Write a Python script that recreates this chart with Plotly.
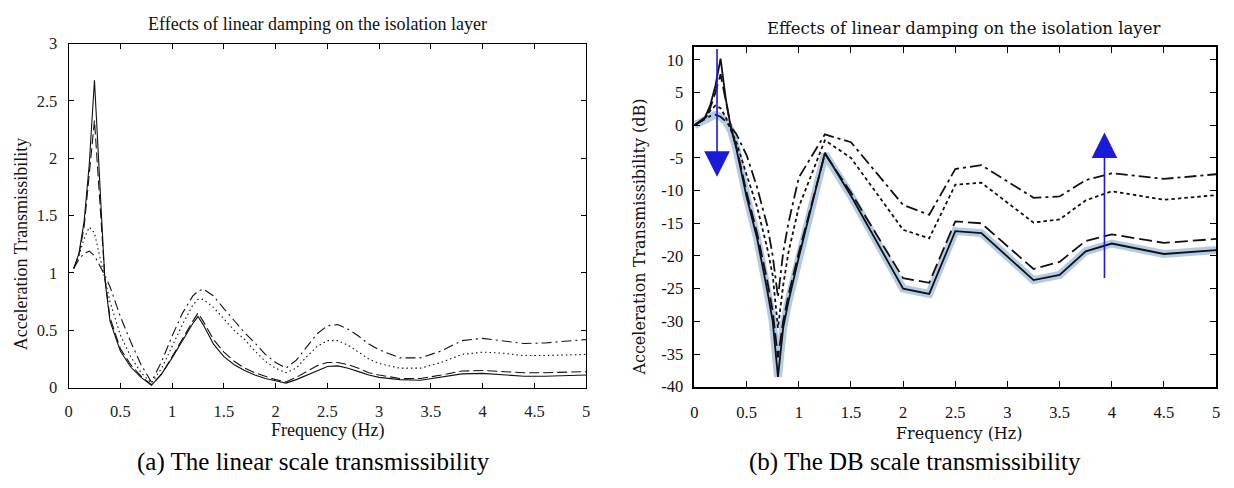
import plotly.graph_objects as go

W, H = 1234, 488

# ---------------- Left panel (linear scale) ----------------
freq_lin = [0.05, 0.1, 0.15, 0.2, 0.25, 0.3, 0.35, 0.4, 0.5, 0.6, 0.7, 0.8, 0.9, 1.0,
            1.1, 1.2, 1.25, 1.3, 1.4, 1.5, 1.6, 1.7, 1.8, 1.9, 2.0, 2.1, 2.2, 2.3, 2.4,
            2.5, 2.6, 2.7, 2.8, 2.9, 3.0, 3.2, 3.4, 3.6, 3.8, 4.0, 4.2, 4.4, 4.6, 4.8, 5.0]
lin_solid = [1.04, 1.17, 1.45, 1.95, 2.68, 1.75, 0.95, 0.58, 0.32, 0.18, 0.09, 0.02, 0.12, 0.26,
             0.41, 0.56, 0.62, 0.55, 0.38, 0.27, 0.20, 0.15, 0.11, 0.08, 0.06, 0.04, 0.07, 0.11, 0.15,
             0.185, 0.19, 0.17, 0.14, 0.11, 0.09, 0.07, 0.065, 0.09, 0.12, 0.125, 0.115, 0.10, 0.10, 0.105, 0.11]
lin_dash = [1.04, 1.16, 1.40, 1.85, 2.33, 1.65, 0.96, 0.61, 0.34, 0.20, 0.10, 0.025, 0.12, 0.27,
            0.43, 0.58, 0.65, 0.58, 0.42, 0.31, 0.23, 0.17, 0.13, 0.10, 0.07, 0.05, 0.09, 0.14, 0.19,
            0.22, 0.22, 0.20, 0.17, 0.13, 0.11, 0.08, 0.08, 0.11, 0.145, 0.15, 0.14, 0.13, 0.13, 0.135, 0.14]
lin_dot = [1.04, 1.15, 1.30, 1.40, 1.35, 1.15, 0.97, 0.75, 0.46, 0.27, 0.13, 0.04, 0.17, 0.36,
           0.55, 0.72, 0.77, 0.77, 0.70, 0.60, 0.50, 0.42, 0.32, 0.23, 0.17, 0.13, 0.17, 0.27, 0.36,
           0.41, 0.41, 0.37, 0.31, 0.25, 0.21, 0.17, 0.17, 0.22, 0.29, 0.31, 0.30, 0.28, 0.28, 0.285, 0.29]
lin_dashdot = [1.04, 1.12, 1.17, 1.19, 1.15, 1.07, 0.98, 0.88, 0.62, 0.40, 0.20, 0.05, 0.23, 0.45,
               0.65, 0.80, 0.84, 0.86, 0.80, 0.69, 0.58, 0.48, 0.39, 0.29, 0.22, 0.17, 0.24, 0.36, 0.47,
               0.54, 0.55, 0.51, 0.45, 0.38, 0.33, 0.26, 0.26, 0.32, 0.41, 0.43, 0.41, 0.385, 0.39, 0.405, 0.42]

# ---------------- Right panel (dB scale) ----------------
freq_db = [0, 0.1, 0.15, 0.2, 0.25, 0.3, 0.35, 0.4, 0.5, 0.6, 0.7, 0.75, 0.8, 0.85, 0.9, 1.0,
           1.25, 1.5, 2.0, 2.25, 2.5, 2.75, 3.25, 3.5, 3.75, 4.0, 4.5, 5.0]
db_solid = [0, 1.2, 3.0, 6.0, 10.2, 4.0, -0.5, -3.5, -11.0, -17.3, -25.5, -30.0, -38.5, -31.0, -27.0, -20.2,
            -4.2, -10.8, -25.0, -25.8, -16.2, -16.5, -23.7, -22.9, -19.3, -18.1, -19.7, -19.1]
db_dash = [0, 1.1, 2.6, 5.0, 7.8, 3.5, -0.3, -3.2, -10.3, -16.5, -24.0, -28.5, -35.5, -30.0, -26.0, -19.5,
           -4.4, -10.3, -23.4, -24.1, -14.7, -15.0, -22.0, -20.9, -17.7, -16.7, -18.0, -17.4]
db_dot = [0, 1.0, 2.2, 3.0, 2.6, 1.2, -0.8, -2.5, -7.6, -12.5, -19.0, -23.0, -31.0, -24.5, -19.5, -12.5,
          -2.3, -5.0, -16.0, -17.3, -9.1, -8.8, -14.9, -14.4, -11.5, -10.1, -11.4, -10.7]
db_dashdot = [0, 0.9, 1.4, 1.6, 1.3, 0.6, -0.3, -1.3, -4.6, -9.5, -15.5, -20.0, -26.3, -19.5, -15.0, -8.0,
              -1.4, -2.6, -12.2, -13.7, -6.7, -6.1, -11.1, -10.9, -8.4, -7.35, -8.2, -7.5]
# light-blue highlight follows the lowest curve
db_highlight = [min(a, b, c, d) for a, b, c, d in zip(db_solid, db_dash, db_dot, db_dashdot)]

x_ticks = [0, 0.5, 1, 1.5, 2, 2.5, 3, 3.5, 4, 4.5, 5]
x_ticktext = ["0", "0.5", "1", "1.5", "2", "2.5", "3", "3.5", "4", "4.5", "5"]
lin_yticks = [0, 0.5, 1, 1.5, 2, 2.5, 3]
lin_yticktext = ["0", "0.5", "1", "1.5", "2", "2.5", "3"]
db_yticks = [-40, -35, -30, -25, -20, -15, -10, -5, 0, 5, 10]
db_yticktext = ["-40", "-35", "-30", "-25", "-20", "-15", "-10", "-5", "0", "5", "10"]

fig = go.Figure()

left_styles = [(lin_solid, "solid"), (lin_dash, "10px,4px"), (lin_dot, "1.5px,3px"),
               (lin_dashdot, "10px,4px,2px,4px")]
for ys, d in left_styles:
    fig.add_trace(go.Scatter(x=freq_lin, y=ys, mode="lines", xaxis="x", yaxis="y",
                             line=dict(color="#111111", width=1.1, dash=d), showlegend=False))

fig.add_trace(go.Scatter(x=freq_db, y=db_highlight, mode="lines", xaxis="x2", yaxis="y2",
                         line=dict(color="#b4cbe6", width=8), showlegend=False))
right_styles = [(db_solid, "solid"), (db_dash, "13px,5px"), (db_dot, "3.5px,3px"),
                (db_dashdot, "12px,4px,3px,4px")]
for ys, d in right_styles:
    fig.add_trace(go.Scatter(x=freq_db, y=ys, mode="lines", xaxis="x2", yaxis="y2",
                             line=dict(color="#111111", width=1.8, dash=d), showlegend=False))

serif = "'Liberation Serif', 'Times New Roman', Times, serif"
cm = "'DejaVu Serif', 'Liberation Serif', serif"

def px_x(p):
    return p / W

def px_y(p):
    return 1 - p / H

axis_common = dict(showgrid=False, zeroline=False, showline=True, linecolor="black",
                   mirror="ticks", ticks="inside", tickcolor="black")

fig.update_layout(
    width=W, height=H, margin=dict(l=0, r=0, t=0, b=0),
    paper_bgcolor="white", plot_bgcolor="white",
    font=dict(family=serif),
    xaxis=dict(domain=[65 / W, 586 / W], range=[0, 5], anchor="y",
               tickvals=x_ticks, ticktext=x_ticktext, linewidth=1, ticklen=5,
               tickfont=dict(family=serif, size=16.5, color="#222"), ticklabelstandoff=9,
               **axis_common),
    yaxis=dict(domain=[1 - 394 / H, 1 - 36 / H], range=[0, 3], anchor="x",
               tickvals=lin_yticks, ticktext=lin_yticktext, linewidth=1, ticklen=5,
               tickfont=dict(family=serif, size=16.5, color="#222"), ticklabelstandoff=7,
               **axis_common),
    xaxis2=dict(domain=[695 / W, 1220 / W], range=[0, 5], anchor="y2",
                tickvals=x_ticks, ticktext=x_ticktext, linewidth=1.8, ticklen=6,
                tickfont=dict(family=serif, size=16.5, color="#111"), ticklabelstandoff=10,
                **axis_common),
    yaxis2=dict(domain=[1 - 393 / H, 1 - 40 / H], range=[-40, 11.9], anchor="x2",
                tickvals=db_yticks, ticktext=db_yticktext, linewidth=1.8, ticklen=6,
                tickfont=dict(family=serif, size=16.5, color="#111"), ticklabelstandoff=6,
                **axis_common),
)

ann = []
def text(x, y, s, size, family, angle=0, color="#111"):
    ann.append(dict(x=px_x(x), y=px_y(y), xref="paper", yref="paper", text=s, showarrow=False,
                    xanchor="center", yanchor="middle", textangle=angle,
                    font=dict(family=family, size=size, color=color)))

text(316, 16, "Effects of linear damping on the isolation layer", 18, serif)
text(966, 20, "Effects of linear damping on the isolation layer", 16.5, cm)
text(326, 439, "Frequency (Hz)", 18, serif)
text(962, 442, "Frequency (Hz)", 16, cm)
text(18, 245, "Acceleration Transmissibility", 18, serif, angle=-90)
text(640, 237, "Acceleration Transmissibility (dB)", 16, cm, angle=-90)
text(312, 471, "(a) The linear scale transmissibility", 25, serif, color="#000")
text(917, 471, "(b) The DB scale transmissibility", 25, serif, color="#000")

# blue trend arrows
ann.append(dict(x=0.216, y=-7.9, ax=0.216, ay=11.9, xref="x2", yref="y2", axref="x2", ayref="y2",
                showarrow=True, arrowhead=2, arrowsize=3.2, arrowwidth=1.6, arrowcolor="#1a1ad8", text=""))
ann.append(dict(x=3.93, y=-1.1, ax=3.93, ay=-23.6, xref="x2", yref="y2", axref="x2", ayref="y2",
                showarrow=True, arrowhead=2, arrowsize=3.2, arrowwidth=1.6, arrowcolor="#1a1ad8", text=""))

fig.update_layout(annotations=ann)
fig.write_html("out.html")
